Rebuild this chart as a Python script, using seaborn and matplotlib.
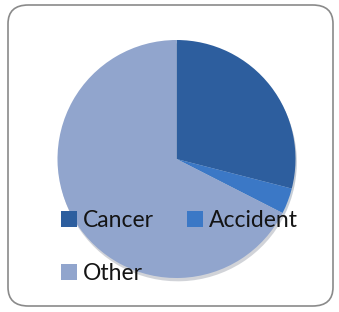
import matplotlib
matplotlib.use("Agg")
import matplotlib.pyplot as plt
import seaborn as sns
from matplotlib.patches import FancyBboxPatch

# Valores (percentagens aproximadas)
categorias = ["Cancer", "Accident", "Other"]
valores = [29, 3.5, 67.5]
cores = ["#2D5E9E", "#3B78C6", "#91A5CD"]

sns.set_theme(style="white")
plt.rcParams["font.family"] = ["Lato", "DejaVu Sans"]

fig = plt.figure(figsize=(3.39, 3.12), dpi=100)

# Moldura arredondada cinzenta (atrás do gráfico)
moldura = FancyBboxPatch((8 / 339, 6 / 312), 325 / 339, 301 / 312,
                         boxstyle="round,pad=0,rounding_size=0.06",
                         transform=fig.transFigure, facecolor="white",
                         edgecolor="#8a8a8a", linewidth=1.2, zorder=-10)
fig.patches.append(moldura)

ax = fig.add_axes([(176.5 - 119) / 339, (153 - 119) / 312, 238 / 339, 238 / 312])
ax.set_zorder(1)
wedges, _ = ax.pie(valores, colors=sns.color_palette(cores), startangle=90,
                   counterclock=False, radius=1,
                   wedgeprops={"linewidth": 0},
                   shadow={"ox": 0.008, "oy": -0.02, "shade": 0.5, "alpha": 0.25})
ax.set_xlim(-1.0, 1.0)
ax.set_ylim(-1.0, 1.0)
ax.set_aspect("equal")
ax.axis("off")

# ordem para preencher: linha 1 Cancer, Accident; linha 2 Other
ordem = [0, 2, 1]
leg = ax.legend([wedges[i] for i in ordem], [categorias[i] for i in ordem],
                loc="upper left", bbox_to_anchor=(61 / 339, (312 - 210) / 312),
                bbox_transform=fig.transFigure,
                ncol=2, frameon=False, fontsize=16.5, borderpad=0,
                handlelength=0.7, handleheight=0.7, handletextpad=0.25,
                columnspacing=1.45, labelspacing=1.4, borderaxespad=0)
for t in leg.get_texts():
    t.set_color("#141414")

fig.savefig("out.png", dpi=100)
